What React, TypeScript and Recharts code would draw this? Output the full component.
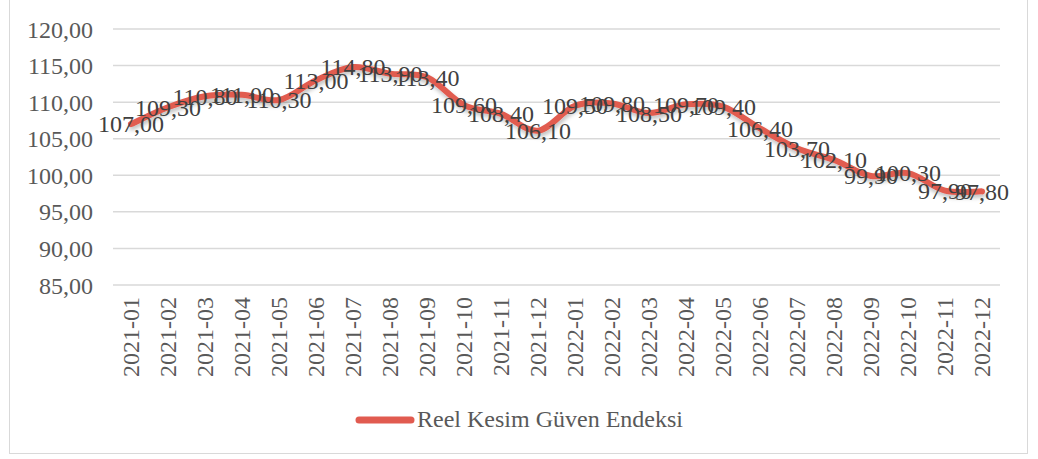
import { LineChart, Line, XAxis, YAxis, CartesianGrid, Legend, LabelList } from 'recharts'

const months = [
  '2021-01', '2021-02', '2021-03', '2021-04', '2021-05', '2021-06',
  '2021-07', '2021-08', '2021-09', '2021-10', '2021-11', '2021-12',
  '2022-01', '2022-02', '2022-03', '2022-04', '2022-05', '2022-06',
  '2022-07', '2022-08', '2022-09', '2022-10', '2022-11', '2022-12',
]

const reelKesim = [
  107.0, 109.3, 110.8, 111.0, 110.3, 113.0,
  114.8, 113.9, 113.4, 109.6, 108.4, 106.1,
  109.5, 109.8, 108.5, 109.7, 109.4, 106.4,
  103.7, 102.1, 99.9, 100.3, 97.9, 97.8,
]

const yTicks = [85, 90, 95, 100, 105, 110, 115, 120]

const seriesName = 'Reel Kesim Güven Endeksi'

const data = months.map((m, i) => ({ month: m, value: reelKesim[i] }))

const FONT = 'Liberation Serif'
const RED = '#E15B50'
const FS = 24
const fmt = (v: number) => v.toFixed(2).replace('.', ',')

// Excel-style smoothed line (Catmull-Rom through every point)
const excelSmooth = (ctx: any) => {
  let pts: number[][] = []
  return {
    areaStart() {},
    areaEnd() {},
    lineStart() { pts = [] },
    point(x: number, y: number) { pts.push([+x, +y]) },
    lineEnd() {
      if (!pts.length) return
      ctx.moveTo(pts[0][0], pts[0][1])
      const t = 1 / 6
      for (let i = 0; i < pts.length - 1; i++) {
        const p0 = pts[i - 1] || pts[i]
        const p1 = pts[i]
        const p2 = pts[i + 1]
        const p3 = pts[i + 2] || p2
        ctx.bezierCurveTo(
          p1[0] + (p2[0] - p0[0]) * t, p1[1] + (p2[1] - p0[1]) * t,
          p2[0] - (p3[0] - p1[0]) * t, p2[1] - (p3[1] - p1[1]) * t,
          p2[0], p2[1],
        )
      }
    },
  }
}

const XTick = ({ x, y, payload }: any) => (
  <text
    x={x}
    y={y}
    transform={`rotate(-90, ${x}, ${y})`}
    textAnchor="end"
    dy="0.35em"
    fontSize={FS}
    style={{ fontFamily: FONT }}
    fill="#595959"
  >
    {payload.value}
  </text>
)

const PointLabel = ({ x, y, value }: any) => (
  <text x={x} y={y} dy="0.35em" textAnchor="middle" fontSize={FS} style={{ fontFamily: FONT }} fill="#404040">
    {fmt(value)}
  </text>
)

const LegendBox = () => (
  <div style={{ display: 'flex', justifyContent: 'center', alignItems: 'center', fontFamily: FONT, fontSize: FS, color: '#595959' }}>
    <svg width={60} height={12} style={{ marginRight: 2 }}>
      <line x1={4} y1={6} x2={56} y2={6} stroke={RED} strokeWidth={7} strokeLinecap="round" />
    </svg>
    <span>{seriesName}</span>
  </div>
)

export default function App() {
  return (
    <div style={{ position: 'absolute', left: 0, top: 0, width: 1038, height: 459, background: '#fff', fontFamily: FONT }}>
      <div style={{ position: 'absolute', left: 9, top: -3, width: 1019, height: 457, border: '1px solid #D9D9D9', boxSizing: 'border-box' }} />
      <div style={{ position: 'absolute', left: 0, top: 0 }}>
        <LineChart width={1038} height={459} data={data} margin={{ top: 29, right: 38, bottom: 0, left: 0 }}>
          <defs>
            <filter id="soft" x="-5%" y="-20%" width="110%" height="140%">
              <feDropShadow dx="1" dy="3" stdDeviation="2" floodColor="#000" floodOpacity="0.25" />
            </filter>
          </defs>
          <CartesianGrid vertical={false} stroke="#D9D9D9" strokeWidth={1.5} />
          <XAxis
            dataKey="month"
            axisLine={false}
            tickLine={false}
            tickSize={0}
            tickMargin={12}
            interval={0}
            height={147}
            padding={{ left: 18, right: 18 }}
            tick={<XTick />}
          />
          <YAxis
            domain={[85, 120]}
            ticks={yTicks}
            width={113}
            axisLine={false}
            tickLine={false}
            tickSize={0}
            tickMargin={20}
            tickFormatter={fmt}
            tick={{ fontSize: FS, fontFamily: FONT, fill: '#595959' }}
          />
          <Legend
            content={<LegendBox />}
            wrapperStyle={{ position: 'absolute', left: 0, top: 406, width: 1038 }}
          />
          <Line
            type={excelSmooth as any}
            dataKey="value"
            name={seriesName}
            stroke={RED}
            strokeWidth={6}
            strokeLinecap="round"
            strokeLinejoin="round"
            dot={false}
            activeDot={false}
            filter="url(#soft)"
            isAnimationActive={false}
          >
            <LabelList dataKey="value" content={<PointLabel />} />
          </Line>
        </LineChart>
      </div>
    </div>
  )
}
